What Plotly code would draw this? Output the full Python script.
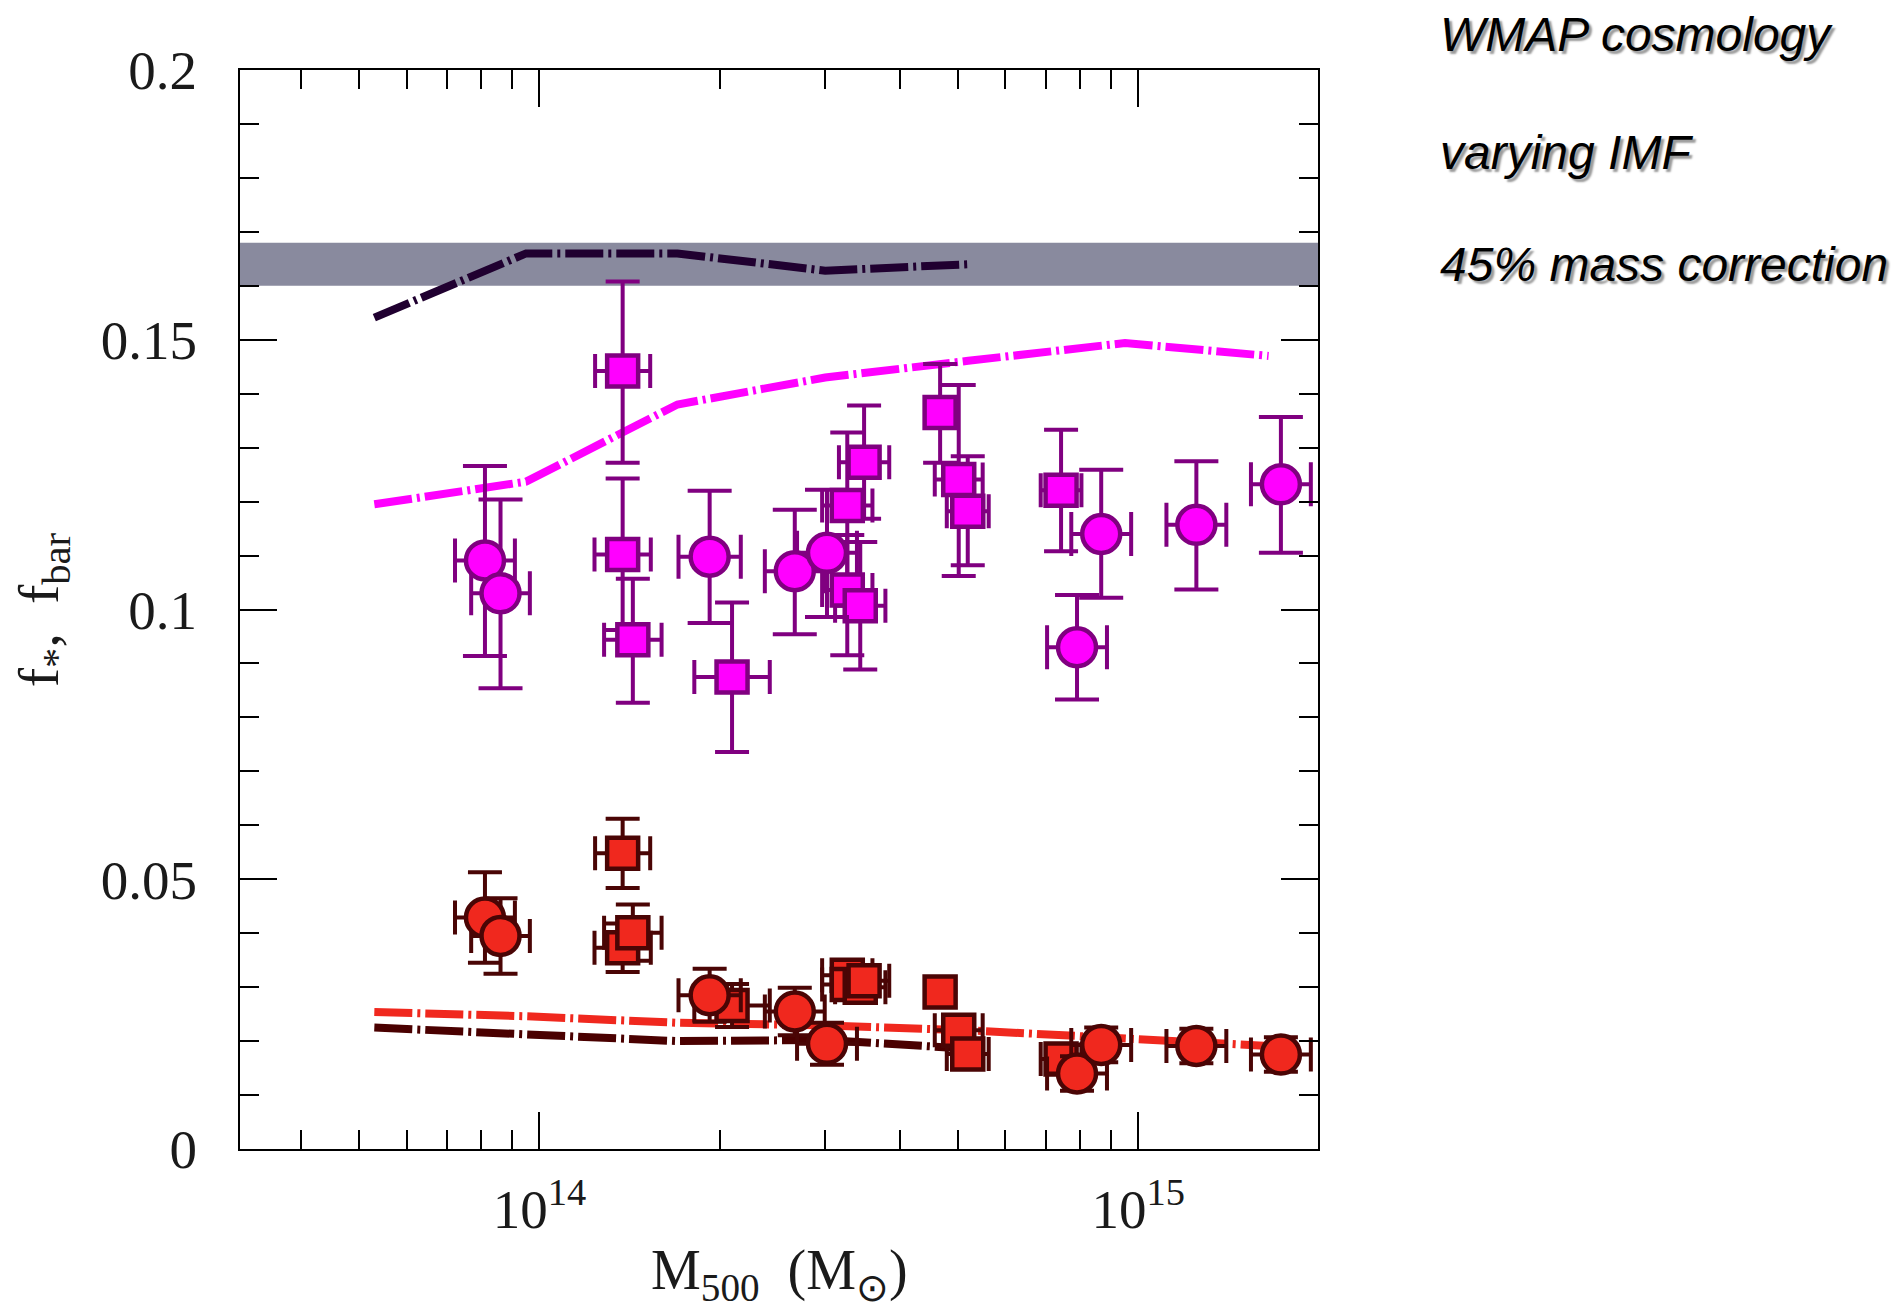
import numpy as np
import plotly.graph_objects as go

# ---- observed clusters (masses in units of 1e14 Msun) ----
# sample drawn with circles
circ_mass = [0.811, 0.861, 1.924, 2.669, 3.021, 7.90, 8.67, 12.5, 17.3]
circ_mass_err_dex = [0.050, 0.049, 0.052, 0.050, 0.050, 0.050, 0.050, 0.050, 0.050]
circ_fbar = [0.1091, 0.1030, 0.1098, 0.1071, 0.1105, 0.0930, 0.1140, 0.1157, 0.1232]
circ_fbar_hi = [0.0175, 0.0174, 0.0122, 0.0114, 0.0117, 0.0097, 0.0119, 0.0118, 0.0125]
circ_fbar_lo = [0.0177, 0.0176, 0.0123, 0.0117, 0.0119, 0.0097, 0.0118, 0.0120, 0.0127]
circ_fstar = [0.0429, 0.0395, 0.0285, 0.0255, 0.0195, 0.0140, 0.0193, 0.0191, 0.0175]
circ_fstar_err = [0.0084, 0.0070, 0.0049, 0.0044, 0.0039, 0.0032, 0.0032, 0.0032, 0.0032]

# sample drawn with squares
sq_mass = [1.377, 1.377, 1.432, 2.097, 3.266, 3.266, 3.433, 3.484, 4.667, 5.013, 5.19, 7.43]
sq_mass_err_dex = [0.046, 0.047, 0.048, 0.063, 0.042, 0.042, 0.042, 0.042, 0.0, 0.040, 0.035, 0.034]
sq_fbar = [0.1442, 0.1102, 0.0944, 0.0875, 0.1193, 0.1036, 0.1007, 0.1273, 0.1365, 0.1241, 0.1182, 0.1221]
sq_fbar_hi = [0.0166, 0.0141, 0.0113, 0.0138, 0.0135, 0.0102, 0.0118, 0.0105, 0.0090, 0.0175, 0.0102, 0.0112]
sq_fbar_lo = [0.0170, 0.0140, 0.0117, 0.0139, 0.0135, 0.0121, 0.0118, 0.0105, 0.0093, 0.0179, 0.0100, 0.0113]
sq_fstar = [0.0548, 0.0373, 0.0401, 0.0266, 0.0322, 0.0305, 0.0300, 0.0312, 0.0291, 0.0220, 0.0176, 0.0167]
sq_fstar_err = [0.0064, 0.0045, 0.0052, 0.0040, 0.0025, 0.0025, 0.0025, 0.0025, 0.0, 0.0015, 0.0015, 0.0020]

# ---- simulation curves (mass bins in units of 1e14 Msun) ----
sim_mass = [0.53, 0.95, 1.7, 3.0, 5.2, 9.5, 16.5]
sim_fbar = [0.1195, 0.1237, 0.1380, 0.1430, 0.1461, 0.1494, 0.1470]
sim_fstar = [0.0254, 0.0246, 0.0234, 0.0229, 0.0220, 0.0206, 0.0191]
sim_mass_short = [0.53, 0.95, 1.7, 3.0, 5.2]
sim_fbar_short = [0.1541, 0.1660, 0.1660, 0.1628, 0.1640]
sim_fstar_short = [0.0225, 0.0212, 0.0200, 0.0202, 0.0186]

# cosmic baryon fraction band
band_lo, band_hi = 0.160, 0.168

side_notes = ["WMAP cosmology", "varying IMF", "45% mass correction"]

UNIT = 1e14


def masses(vals):
    return np.array(vals) * UNIT


def mass_errors(vals, dex):
    m = masses(vals)
    d = np.array(dex)
    return m * (10 ** d - 1), m * (1 - 10 ** (-d))


MAGENTA = "#ff00ff"
PURPLE = "#800080"
RED = "#f0281e"
MAROON = "#4a0505"
DARK_RED = "#4a0000"
DARK_PURPLE = "#200030"
BAND = "#898a9e"
DASH = "38px,5px,3px,5px"

fig = go.Figure()

# simulation curves
fig.add_trace(go.Scatter(x=masses(sim_mass_short), y=sim_fbar_short, mode="lines",
                         line=dict(color=DARK_PURPLE, width=8, dash=DASH), hoverinfo="skip"))
fig.add_trace(go.Scatter(x=masses(sim_mass), y=sim_fbar, mode="lines",
                         line=dict(color=MAGENTA, width=8, dash=DASH), hoverinfo="skip"))
fig.add_trace(go.Scatter(x=masses(sim_mass), y=sim_fstar, mode="lines",
                         line=dict(color=RED, width=8, dash=DASH), hoverinfo="skip"))
fig.add_trace(go.Scatter(x=masses(sim_mass_short), y=sim_fstar_short, mode="lines",
                         line=dict(color=DARK_RED, width=8, dash=DASH), hoverinfo="skip"))


def add_points(mass, mdex, y, yhi, ylo, symbol, size, fill, edge, cap):
    xp, xm = mass_errors(mass, mdex)
    fig.add_trace(go.Scatter(
        x=masses(mass), y=y, mode="markers",
        marker=dict(symbol=symbol, size=size, color=fill, line=dict(color=edge, width=4.5)),
        error_x=dict(type="data", symmetric=False, array=xp, arrayminus=xm,
                     color=edge, thickness=4, width=cap),
        error_y=dict(type="data", symmetric=False, array=yhi, arrayminus=ylo,
                     color=edge, thickness=4, width=cap),
    ))


# baryon fractions
add_points(sq_mass, sq_mass_err_dex, sq_fbar, sq_fbar_hi, sq_fbar_lo,
           "square", 31, MAGENTA, PURPLE, 17)
add_points(circ_mass, circ_mass_err_dex, circ_fbar, circ_fbar_hi, circ_fbar_lo,
           "circle", 38, MAGENTA, PURPLE, 22)
# stellar fractions
add_points(sq_mass, sq_mass_err_dex, sq_fstar, sq_fstar_err, sq_fstar_err,
           "square", 31, RED, MAROON, 17)
add_points(circ_mass, circ_mass_err_dex, circ_fstar, circ_fstar_err, circ_fstar_err,
           "circle", 38, RED, MAROON, 17)

fig.add_shape(type="rect", xref="paper", x0=0, x1=1, yref="y", y0=band_lo, y1=band_hi,
              fillcolor=BAND, line=dict(width=0), layer="below")

SERIF = "Liberation Serif"
tick_font = dict(family=SERIF, size=55, color="#1a1a1a")

major_x = [1e14, 1e15]
minor_x = [k * 1e13 for k in range(2, 10)] + [k * 1e14 for k in range(2, 10)] + [2e15]

fig.update_xaxes(
    type="log", range=[13.5, 15.3],
    tickvals=major_x, ticktext=["10<sup>14</sup>", "10<sup>15</sup>"],
    ticks="inside", ticklen=37, tickwidth=2, tickcolor="black",
    minor=dict(tickvals=minor_x, ticks="inside", ticklen=19, tickwidth=2, tickcolor="black",
               showgrid=False),
    showline=True, linecolor="black", linewidth=2, mirror="allticks",
    showgrid=False, zeroline=False, tickfont=tick_font, ticklabelstandoff=11,
)
fig.update_yaxes(
    range=[0, 0.2],
    tickvals=[0, 0.05, 0.1, 0.15, 0.2], ticktext=["0", "0.05", "0.1", "0.15", "0.2"],
    ticks="inside", ticklen=37, tickwidth=2, tickcolor="black",
    minor=dict(dtick=0.01, ticks="inside", ticklen=19, tickwidth=2, tickcolor="black",
               showgrid=False),
    showline=True, linecolor="black", linewidth=2, mirror="allticks",
    showgrid=False, zeroline=False, tickfont=tick_font, ticklabelstandoff=30,
)

annotations = [
    dict(text="M<sub>500</sub>  (M<sub>⊙</sub>)", xref="paper", yref="paper",
         x=0.5, y=-0.116, xanchor="center", yanchor="middle", showarrow=False,
         font=dict(family=SERIF, size=56, color="#1a1a1a")),
    dict(text="f<sub>*</sub>,  f<sub>bar</sub>", xref="paper", yref="paper",
         x=-0.183, y=0.5, xanchor="center", yanchor="middle", textangle=-90, showarrow=False,
         font=dict(family=SERIF, size=58, color="#1a1a1a")),
]
for note, ypos in zip(side_notes, [1.033, 0.924, 0.820]):
    annotations.append(dict(
        text=note, xref="paper", yref="paper", x=1.1113, y=ypos,
        xanchor="left", yanchor="middle", showarrow=False,
        font=dict(family="Liberation Sans", size=48, color="black", style="italic",
                  shadow="3px 3px 2px #9a9a9a"),
    ))

fig.update_layout(
    width=1891, height=1313,
    margin=dict(l=240, r=573, t=70, b=164),
    paper_bgcolor="white", plot_bgcolor="white",
    showlegend=False,
    annotations=annotations,
)

fig.write_html("out.html")
